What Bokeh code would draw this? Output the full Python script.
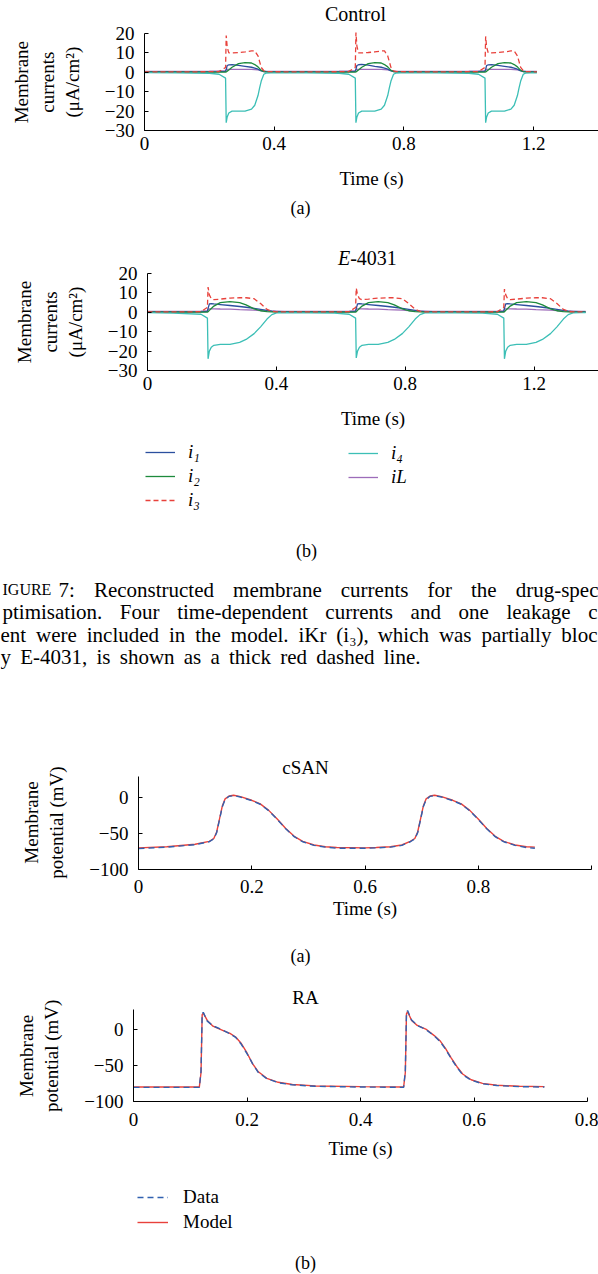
from bokeh.plotting import figure
from bokeh.models import Range1d, FixedTicker, Legend, LegendItem
from bokeh.layouts import column
from bokeh.embed import file_html
from bokeh.resources import INLINE
from bokeh.core.properties import value

FONT = "Liberation Serif"
C_I1 = "#2b4f9e"
C_I2 = "#1d8a3c"
C_I3 = "#e8413b"
C_I4 = "#3cbfb6"
C_IL = "#9d6cb9"
C_DATA = "#3061b0"
C_MODEL = "#e8413b"

# ---------------- Control currents ----------------
t_ctrl = [0.0, 0.10, 0.20,
          0.23, 0.25, 0.252, 0.255, 0.26, 0.27, 0.29, 0.31, 0.33, 0.34, 0.35, 0.355, 0.36, 0.368, 0.375, 0.39,
          0.50, 0.60,
          0.63, 0.65, 0.652, 0.655, 0.66, 0.67, 0.69, 0.71, 0.73, 0.74, 0.75, 0.755, 0.76, 0.768, 0.775, 0.79,
          0.90, 1.00,
          1.03, 1.05, 1.052, 1.055, 1.06, 1.07, 1.09, 1.11, 1.13, 1.14, 1.15, 1.155, 1.16, 1.168, 1.175, 1.19,
          1.21]
i1_ctrl = [0.2, 0.2, 0.2,
           0.3, 0.5, 1.5, 3.5, 3.8, 4.0, 3.6, 3.1, 2.6, 2.2, 1.6, 1.1, 0.7, 0.4, 0.3, 0.2,
           0.2, 0.2,
           0.3, 0.5, 1.5, 3.5, 3.9, 4.1, 3.7, 3.1, 2.6, 2.2, 1.6, 1.1, 0.7, 0.4, 0.3, 0.2,
           0.2, 0.2,
           0.3, 0.5, 1.5, 3.5, 3.8, 4.0, 3.6, 3.1, 2.6, 2.2, 1.6, 1.1, 0.7, 0.4, 0.3, 0.2,
           0.2]
i2_ctrl = [0.1, 0.1, 0.1,
           0.1, 0.1, 0.2, 0.6, 1.2, 2.6, 4.5, 5.0, 4.8, 4.0, 2.8, 1.9, 1.0, 0.4, 0.2, 0.1,
           0.1, 0.1,
           0.1, 0.1, 0.2, 0.6, 1.2, 2.6, 4.5, 5.0, 4.8, 4.0, 2.8, 1.9, 1.0, 0.4, 0.2, 0.1,
           0.1, 0.1,
           0.1, 0.1, 0.2, 0.6, 1.2, 2.6, 4.5, 5.0, 4.8, 4.0, 2.8, 1.9, 1.0, 0.4, 0.2, 0.1,
           0.1]
i3_ctrl = [0.2, 0.2, 0.3,
           0.4, 2.5, 19.0, 13.0, 10.0, 10.0, 10.2, 10.5, 11.0, 11.0, 8.5, 5.5, 2.5, 0.8, 0.4, 0.3,
           0.2, 0.3,
           0.4, 2.5, 20.5, 13.5, 10.0, 10.0, 10.2, 10.5, 11.0, 11.0, 8.5, 5.5, 2.5, 0.8, 0.4, 0.3,
           0.2, 0.3,
           0.4, 2.5, 18.5, 13.0, 10.0, 10.0, 10.2, 10.5, 11.0, 11.0, 8.5, 5.5, 2.5, 0.8, 0.4, 0.3,
           0.2]
i4_ctrl = [-0.2, -0.3, -0.5,
           -1.0, -3.0, -26.0, -23.0, -21.0, -20.0, -20.0, -20.0, -19.0, -17.0, -12.0, -8.0, -4.5, -1.0, -0.4, -0.3,
           -0.3, -0.5,
           -1.0, -3.0, -26.0, -23.0, -21.0, -20.0, -20.0, -20.0, -19.0, -17.0, -12.0, -8.0, -4.5, -1.0, -0.4, -0.3,
           -0.3, -0.5,
           -1.0, -3.0, -26.0, -23.0, -21.0, -20.0, -20.0, -20.0, -19.0, -17.0, -12.0, -8.0, -4.5, -1.0, -0.4, -0.3,
           -0.3]
iL_ctrl = [0.5, 0.5, 0.6,
           0.7, 0.9, 1.4, 1.5, 1.5, 1.5, 1.5, 1.5, 1.5, 1.4, 1.3, 1.2, 1.0, 0.7, 0.6, 0.5,
           0.5, 0.6,
           0.7, 0.9, 1.4, 1.5, 1.5, 1.5, 1.5, 1.5, 1.5, 1.4, 1.3, 1.2, 1.0, 0.7, 0.6, 0.5,
           0.5, 0.6,
           0.7, 0.9, 1.4, 1.5, 1.5, 1.5, 1.5, 1.5, 1.5, 1.4, 1.3, 1.2, 1.0, 0.7, 0.6, 0.5,
           0.5]

# ---------------- E-4031 currents ----------------
t_e4031 = [0.0, 0.08,
           0.166, 0.186, 0.188, 0.192, 0.198, 0.206, 0.226, 0.256, 0.286, 0.306, 0.331, 0.351, 0.371, 0.386, 0.401, 0.426,
           0.50, 0.58,
           0.626, 0.646, 0.648, 0.652, 0.658, 0.666, 0.686, 0.716, 0.746, 0.766, 0.791, 0.811, 0.831, 0.846, 0.861, 0.886,
           0.96, 1.04,
           1.086, 1.106, 1.108, 1.112, 1.118, 1.126, 1.146, 1.176, 1.206, 1.226, 1.251, 1.271, 1.291, 1.306, 1.321, 1.346,
           1.36]
i1_e4031 = [0.2, 0.2,
            0.2, 0.5, 2.0, 4.3, 4.5, 4.3, 4.0, 3.5, 3.0, 2.6, 2.0, 1.5, 1.0, 0.6, 0.3, 0.2,
            0.2, 0.2,
            0.2, 0.5, 2.0, 4.3, 4.5, 4.3, 4.0, 3.5, 3.0, 2.6, 2.0, 1.5, 1.0, 0.6, 0.3, 0.2,
            0.2, 0.2,
            0.2, 0.5, 2.0, 4.3, 4.5, 4.3, 4.0, 3.5, 3.0, 2.6, 2.0, 1.5, 1.0, 0.6, 0.3, 0.2,
            0.2]
i2_e4031 = [0.1, 0.1,
            0.1, 0.1, 0.3, 1.0, 2.0, 3.2, 5.0, 5.5, 5.0, 3.8, 1.8, 0.8, 0.3, 0.2, 0.1, 0.1,
            0.1, 0.1,
            0.1, 0.1, 0.3, 1.0, 2.0, 3.2, 5.0, 5.5, 5.0, 3.8, 1.8, 0.8, 0.3, 0.2, 0.1, 0.1,
            0.1, 0.1,
            0.1, 0.1, 0.3, 1.0, 2.0, 3.2, 5.0, 5.5, 5.0, 3.8, 1.8, 0.8, 0.3, 0.2, 0.1, 0.1,
            0.1]
i3_e4031 = [0.2, 0.2,
            0.3, 2.5, 13.0, 9.0, 7.0, 6.5, 6.8, 7.3, 7.5, 7.5, 7.0, 4.5, 1.5, 0.5, 0.2, 0.2,
            0.2, 0.2,
            0.3, 2.5, 12.5, 9.0, 7.0, 6.5, 6.8, 7.3, 7.5, 7.5, 7.0, 4.5, 1.5, 0.5, 0.2, 0.2,
            0.2, 0.2,
            0.3, 2.5, 12.0, 9.0, 7.0, 6.5, 6.8, 7.3, 7.5, 7.5, 7.0, 4.5, 1.5, 0.5, 0.2, 0.2,
            0.2]
i4_e4031 = [-0.2, -0.4,
            -1.0, -3.0, -24.0, -20.0, -18.0, -17.0, -16.5, -16.5, -15.5, -14.0, -11.0, -7.5, -3.5, -1.2, -0.3, -0.2,
            -0.3, -0.4,
            -1.0, -3.0, -23.5, -20.0, -18.0, -17.0, -16.5, -16.5, -15.5, -14.0, -11.0, -7.5, -3.5, -1.2, -0.3, -0.2,
            -0.3, -0.4,
            -1.0, -3.0, -24.0, -20.0, -18.0, -17.0, -16.5, -16.5, -15.5, -14.0, -11.0, -7.5, -3.5, -1.2, -0.3, -0.2,
            -0.2]
iL_e4031 = [0.5, 0.5,
            0.6, 0.8, 1.5, 1.8, 1.8, 1.8, 1.7, 1.6, 1.4, 1.3, 1.1, 0.9, 0.7, 0.6, 0.6, 0.5,
            0.5, 0.5,
            0.6, 0.8, 1.5, 1.8, 1.8, 1.8, 1.7, 1.6, 1.4, 1.3, 1.1, 0.9, 0.7, 0.6, 0.6, 0.5,
            0.5, 0.5,
            0.6, 0.8, 1.5, 1.8, 1.8, 1.8, 1.7, 1.6, 1.4, 1.3, 1.1, 0.9, 0.7, 0.6, 0.6, 0.5,
            0.5]

# ---------------- cSAN action potentials ----------------
t_csan = [0.0, 0.05, 0.10, 0.125, 0.133, 0.138, 0.143, 0.148, 0.153, 0.16, 0.168, 0.18, 0.20,
          0.215, 0.23, 0.245, 0.26, 0.275, 0.29, 0.31, 0.33, 0.35, 0.40, 0.42, 0.445, 0.465, 0.48,
          0.488, 0.493, 0.498, 0.503, 0.508, 0.515, 0.523, 0.535, 0.555, 0.57, 0.585, 0.60, 0.615,
          0.63, 0.645, 0.665, 0.685, 0.70]
v_csan_data = [-71, -69, -65.5, -61.5, -57.5, -49, -31, -13, -3, 1.5, 2.5, 0.5, -4.5,
               -9.5, -18.5, -30.5, -43.5, -54.5, -61.5, -66.5, -69, -70.5, -70.5, -70, -69, -66.5, -61.5,
               -57.5, -49, -31, -13, -3, 1.5, 2.5, 0.5, -4.5, -9.5, -18.5, -30.5, -43.5,
               -54.5, -61.5, -66.5, -69.5, -70.5]
v_csan_model = [-70, -68.5, -65, -61, -57, -48, -30, -12, -2, 2, 3, 1, -4,
                -9, -18, -30, -43, -54, -61, -66, -68.5, -69.5, -70, -69.5, -68.5, -66, -61,
                -57, -48, -30, -12, -2, 2, 3, 1, -4, -9, -18, -30, -43,
                -54, -61, -66, -68.5, -69]
csan_tick_labels = {0: "0", 0.2: "0.2", 0.4: "0.6", 0.6: "0.8", 0.8: ""}

# ---------------- RA action potentials ----------------
t_ra = [0.0, 0.10, 0.116, 0.119, 0.121, 0.123, 0.13, 0.14, 0.155, 0.17, 0.18, 0.19, 0.20, 0.21,
        0.22, 0.235, 0.255, 0.28, 0.32, 0.40, 0.476, 0.479, 0.481, 0.483, 0.49, 0.50, 0.515, 0.53,
        0.54, 0.55, 0.56, 0.57, 0.58, 0.595, 0.615, 0.64, 0.68, 0.724]
v_ra_model = [-80, -80, -80, -60, 20, 22, 12, 4, -1, -6, -11, -20, -33, -48,
              -59, -68, -73.5, -76.5, -78.5, -79.5, -80, -60, 21, 24, 12, 5, 0, -9,
              -16, -27, -40, -52, -62, -70, -75, -77.5, -79, -79.5]
v_ra_data = [-80.5, -80.5, -80.5, -58, 21, 23, 11, 4.5, -0.5, -6.5, -11.5, -21, -34, -48,
             -60, -68.5, -74, -77, -79, -80, -80.5, -58, 22, 25.5, 12.5, 5, -0.5, -9.5,
             -17, -28, -41, -53, -63, -70.5, -75.5, -78, -79.5, -80]

cur_y_ticks = [-30, -20, -10, 0, 10, 20]
cur_x_ticks = [0, 0.4, 0.8, 1.2]
ap_y_ticks = [-100, -50, 0]
ra_x_ticks = [0, 0.2, 0.4, 0.6, 0.8]

caption_lines = [
    ["7:", "Reconstructed", "membrane", "currents", "for", "the", "drug-spec"],
    ["ptimisation.", "Four", "time-dependent", "currents", "and", "one", "leakage", "c"],
    ["ent", "were", "included", "in", "the", "model.", "iKr", "(i\u2083),", "which", "was",
     "partially", "bloc"],
    ["y", "E-4031,", "is", "shown", "as", "a", "thick", "red", "dashed", "line."],
]

# Times / Liberation Serif advance widths (1/1000 em)
TW = {" ": 250, "(": 333, ")": 333, ",": 250, "-": 333, ".": 250, ":": 278, "\u2083": 300,
      "A": 722, "E": 611, "F": 556, "G": 722, "I": 333, "K": 722, "R": 667, "U": 722,
      "a": 444, "b": 500, "c": 444, "d": 500, "e": 444, "f": 333, "g": 500, "h": 500,
      "i": 278, "k": 500, "l": 278, "m": 778, "n": 500, "o": 500, "p": 500, "r": 333,
      "s": 389, "t": 278, "u": 500, "w": 722, "y": 500}
NB = "\u00a0"


def tw(s, size):
    return sum(TW.get(ch, 500) for ch in s) * size / 1000.0


def justify(words, x0, x1, size):
    widths = [tw(w, size) for w in words]
    gap = (x1 - x0 - sum(widths)) / (len(words) - 1)
    xs, x = [], x0
    for w in widths:
        xs.append(x)
        x += w + gap
    return xs


def minus(v):
    return str(v).replace("-", "\u2212")


def plain_fig(height):
    f = figure(width=598, height=height, x_range=Range1d(0, 598), y_range=Range1d(height, 0),
               output_backend="svg", toolbar_location=None, min_border=0,
               x_axis_location=None, y_axis_location=None)
    f.frame_align = False
    f.outline_line_color = None
    f.xgrid.visible = False
    f.ygrid.visible = False
    return f


def label(f, x, y, text, size="18px", align="center", style="normal"):
    f.text(x=[x], y=[y], text=[text], text_font=value(FONT), text_font_size=size,
           text_font_style=style, text_align=align, text_baseline="middle", text_color="black")


class Panel:
    """A plot whose frame reaches up over its title; the y axis itself is bounded."""

    def __init__(self, height, left, right, top, bottom, xr, y_lo, y_hi, axis_top_px):
        self.left = left
        self.top = top
        self.fw = 598 - left - right
        self.fh = height - bottom - top
        self.xr = xr
        axis_px = self.fh - axis_top_px
        self.y_lo = y_lo
        self.y_top = y_lo + self.fh * (y_hi - y_lo) / axis_px
        p = figure(width=598, height=height, x_range=Range1d(*xr),
                   y_range=Range1d(y_lo, self.y_top),
                   output_backend="svg", toolbar_location=None,
                   min_border_left=left, min_border_right=right,
                   min_border_top=top, min_border_bottom=bottom)
        p.frame_align = False
        p.outline_line_color = None
        p.xgrid.visible = False
        p.ygrid.visible = False
        for ax in (p.xaxis[0], p.yaxis[0]):
            ax.axis_line_color = "black"
            ax.axis_line_width = 1
            ax.major_tick_in = 4
            ax.major_tick_out = 0
            ax.minor_tick_in = 0
            ax.minor_tick_out = 0
            ax.major_tick_line_color = "black"
            ax.major_label_text_font = FONT
            ax.major_label_text_font_size = "19px"
            ax.major_label_text_color = "black"
            ax.axis_label_text_font = FONT
            ax.axis_label_text_font_size = "19px"
            ax.axis_label_text_font_style = "normal"
            ax.axis_label_text_color = "black"
        p.yaxis[0].bounds = (y_lo, y_hi)
        self.p = p

    def at(self, px, py):
        x = self.xr[0] + (px - self.left) / self.fw * (self.xr[1] - self.xr[0])
        y = self.y_top - (py - self.top) / self.fh * (self.y_top - self.y_lo)
        return x, y

    def title(self, px, py, text, size="20px", align="center", style="normal"):
        x, y = self.at(px, py)
        label(self.p, x, y, text, size=size, align=align, style=style)


def current_panel(height, left, bottom, axis_top, t, i1, i2, i3, i4, iL, pad):
    pn = Panel(height, left, 0, 0, bottom, (0, 1.4), -30, 20, axis_top)
    p = pn.p
    p.xaxis[0].ticker = FixedTicker(ticks=cur_x_ticks)
    p.xaxis[0].major_label_overrides = {0: "0"}
    p.yaxis[0].ticker = FixedTicker(ticks=cur_y_ticks)
    p.yaxis[0].major_label_overrides = {v: minus(v) for v in cur_y_ticks}
    p.xaxis[0].axis_label = "Time (s)"
    p.xaxis[0].major_label_standoff = 6
    p.xaxis[0].axis_label_standoff = 15
    p.yaxis[0].axis_label = "\n".join(s + NB * pad for s in
                                      ["Membrane", "currents", "(\u03bcA/cm\u00b2)"])
    p.yaxis[0].major_label_standoff = 10
    p.yaxis[0].axis_label_standoff = 19
    p.line(t, iL, line_color=C_IL, line_width=1.3)
    p.line(t, i1, line_color=C_I1, line_width=1.3)
    p.line(t, i2, line_color=C_I2, line_width=1.3)
    p.line(t, i4, line_color=C_I4, line_width=1.3)
    p.line(t, i3, line_color=C_I3, line_width=1.3, line_dash="5 3")
    return pn


def ap_panel(height, left, right, top, bottom, axis_top, y_hi, tick_labels, pad,
             tl_standoff, al_standoff):
    pn = Panel(height, left, right, top, bottom, (0, 0.8), -100, y_hi, axis_top)
    p = pn.p
    p.xaxis[0].ticker = FixedTicker(ticks=ra_x_ticks)
    p.xaxis[0].major_label_overrides = tick_labels
    p.yaxis[0].ticker = FixedTicker(ticks=ap_y_ticks)
    p.yaxis[0].major_label_overrides = {v: minus(v) for v in ap_y_ticks}
    p.xaxis[0].axis_label = "Time (s)"
    p.xaxis[0].major_label_standoff = tl_standoff
    p.xaxis[0].axis_label_standoff = al_standoff
    p.yaxis[0].axis_label = "\n".join(s + NB * pad for s in ["Membrane", "potential (mV)"])
    p.yaxis[0].major_label_standoff = 10
    p.yaxis[0].axis_label_standoff = 19
    return pn


def style_legend(leg, italic=True, standoff=13, gw=30, spacing=2):
    leg.background_fill_alpha = 0
    leg.border_line_alpha = 0
    leg.padding = 0
    leg.margin = 0
    leg.spacing = spacing
    leg.glyph_width = gw
    leg.glyph_height = 20
    leg.label_height = 20
    leg.label_standoff = standoff
    leg.label_text_font = FONT
    leg.label_text_font_size = "19px"
    leg.label_text_font_style = "italic" if italic else "normal"
    leg.label_text_color = "black"
    leg.inactive_fill_alpha = 0


# ---- (a) Control : figure 0-195, axis top at 33 ----
pnA = current_panel(195, 144, 65, 33, t_ctrl, i1_ctrl, i2_ctrl, i3_ctrl, i4_ctrl, iL_ctrl, 7)
pnA.title(355, 13, "Control")

s_a = plain_fig(40)
label(s_a, 300, 12, "(a)")

# ---- (b) E-4031 : figure 235-440, axis top at 273 ----
pnB = current_panel(205, 147, 70, 38, t_e4031, i1_e4031, i2_e4031, i3_e4031, i4_e4031, iL_e4031, 8)
pnB.title(337.5, 22, "E", align="left", style="italic")
pnB.title(349.7, 22, "-4031", align="left")

# legend block for (b): hidden copies of the series give the legend its swatches
legB = plain_fig(135)
s1 = legB.line(t_e4031, i1_e4031, line_color=C_I1, line_width=1.3, visible=False)
s2 = legB.line(t_e4031, i2_e4031, line_color=C_I2, line_width=1.3, visible=False)
s3 = legB.line(t_e4031, i3_e4031, line_color=C_I3, line_width=1.3, line_dash="5 3", visible=False)
s4 = legB.line(t_e4031, i4_e4031, line_color=C_I4, line_width=1.3, visible=False)
sL = legB.line(t_e4031, iL_e4031, line_color=C_IL, line_width=1.3, visible=False)
leg1 = Legend(items=[LegendItem(label="i\u2081", renderers=[s1]),
                     LegendItem(label="i\u2082", renderers=[s2]),
                     LegendItem(label="i\u2083", renderers=[s3])],
              location=(145, 64))
leg2 = Legend(items=[LegendItem(label="i\u2084", renderers=[s4]),
                     LegendItem(label="iL", renderers=[sL])],
              location=(348, 87))
for lg in (leg1, leg2):
    style_legend(lg)
    legB.add_layout(lg)
label(legB, 306, 110, "(b)")

# ---- caption : 575-740 ----
CAP_SIZE = 21
cap = plain_fig(165)
bases = [14, 36.5, 59, 81.5]
cap.text(x=[2], y=[bases[0]], text=["IGURE"], text_font=value(FONT), text_font_size="16px",
         text_baseline="alphabetic", text_color="black")
starts = [58, 2, 0, 0]
ends = [598, 597, 597, 420]
wx, wy, wt = [], [], []
for words, x0, x1, yb in zip(caption_lines, starts, ends, bases):
    for x, w in zip(justify(words, x0, x1, CAP_SIZE), words):
        wx.append(x)
        wy.append(yb)
        wt.append(w)
cap.text(x=wx, y=wy, text=wt, text_font=value(FONT), text_font_size=f"{CAP_SIZE}px",
         text_baseline="alphabetic", text_color="black")

# ---- (a) cSAN : figure 740-930, frame from 756, axis top at 776 ----
pnC = ap_panel(190, 138, 7, 16, 61, 20, 29, csan_tick_labels, 4, 10, 2)
pnC.title(305, 27, "cSAN", size="19px")
pnC.p.line(t_csan, v_csan_model, line_color=C_MODEL, line_width=1.4)
pnC.p.line(t_csan, v_csan_data, line_color=C_DATA, line_width=1.4, line_dash="6 4")

s_a2 = plain_fig(45)
label(s_a2, 300, 25, "(a)")

# ---- (b) RA : figure 975-1175, frame from 986, axis top at 1009 ----
pnD = ap_panel(200, 133, 11, 11, 74, 23, 27, {0: "0"}, 5, 11, 9)
pnD.title(305, 22, "RA", size="19px")
pnD.p.line(t_ra, v_ra_model, line_color=C_MODEL, line_width=1.4)
pnD.p.line(t_ra, v_ra_data, line_color=C_DATA, line_width=1.4, line_dash="6 4")

legD = plain_fig(99)
sd = legD.line(t_ra, v_ra_data, line_color=C_DATA, line_width=1.4, line_dash="6 4", visible=False)
sm = legD.line(t_ra, v_ra_model, line_color=C_MODEL, line_width=1.4, visible=False)
lgD = Legend(items=[LegendItem(label="Data", renderers=[sd]),
                    LegendItem(label="Model", renderers=[sm])],
             location=(137, 41))
style_legend(lgD, italic=False, standoff=15, gw=31, spacing=3)
legD.add_layout(lgD)
label(legD, 305, 87, "(b)")

layout = column(pnA.p, s_a, pnB.p, legB, cap, pnC.p, s_a2, pnD.p, legD, spacing=0)
open("out.html", "w").write(file_html(layout, INLINE))
